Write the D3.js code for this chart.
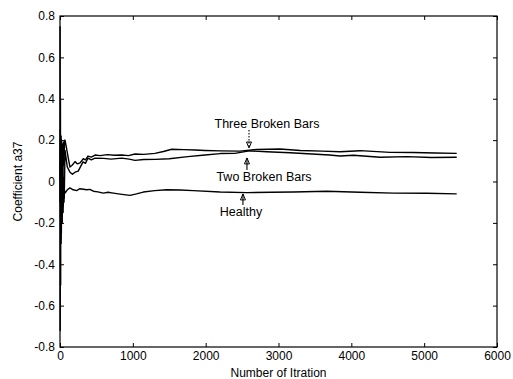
<!DOCTYPE html>
<html><head><meta charset="utf-8">
<script src="https://cdn.jsdelivr.net/npm/d3@7"></script>
<style>body{margin:0;background:#fff}svg{display:block}text{font-family:"Liberation Sans",Arial,sans-serif;fill:#000}</style>
</head><body>
<svg id="c" width="513" height="379"></svg>
<script>
const xTicks = [0,1000,2000,3000,4000,5000,6000];
const yTicks = [-0.8,-0.6,-0.4,-0.2,0,0.2,0.4,0.6,0.8];
const yTickLabels = ["-0.8","-0.6","-0.4","-0.2","0","0.2","0.4","0.6","0.8"];

const threeBroken = [[0,0],[4,0.25],[8,-0.1],[12,0.22],[17,-0.2],[22,0.2],[28,-0.08],[34,0.18],[40,0.0],[48,0.19],[55,0.08],[62,0.2],[69,0.2],[90,0.16],[110,0.12],[137,0.07],[170,0.08],[206,0.096],[240,0.085],[275,0.09],[320,0.11],[350,0.105],[384,0.123],[430,0.118],[481,0.128],[550,0.125],[650,0.13],[750,0.127],[847,0.128],[940,0.125],[1030,0.133],[1150,0.131],[1304,0.136],[1420,0.145],[1534,0.156],[1700,0.154],[1854,0.152],[1991,0.15],[2200,0.148],[2471,0.147],[2700,0.155],[3020,0.157],[3300,0.15],[3600,0.147],[3845,0.144],[4120,0.149],[4532,0.141],[4850,0.14],[5150,0.138],[5447,0.136]];

const twoBroken = [[0,-0.1],[5,0.15],[10,-0.28],[14,0.1],[19,-0.25],[24,0.12],[30,-0.2],[36,0.05],[42,-0.15],[50,0.02],[58,-0.08],[69,0.15],[100,0.07],[137,0.045],[170,0.035],[206,0.045],[250,0.05],[316,0.095],[350,0.088],[384,0.113],[430,0.105],[481,0.113],[600,0.112],[700,0.108],[847,0.113],[950,0.108],[1030,0.102],[1150,0.106],[1304,0.107],[1500,0.11],[1757,0.12],[1991,0.128],[2200,0.135],[2400,0.136],[2600,0.148],[2838,0.144],[3158,0.139],[3400,0.134],[3700,0.128],[3845,0.123],[4028,0.127],[4395,0.117],[4760,0.12],[5100,0.116],[5447,0.117]];

const healthy = [[1,0.75],[3,-0.72],[6,0.4],[9,-0.5],[12,0.22],[16,-0.3],[20,0.1],[25,-0.2],[30,0.05],[35,-0.15],[40,-0.02],[45,-0.12],[50,-0.05],[55,-0.1],[60,-0.04],[69,-0.056],[100,-0.04],[137,-0.031],[180,-0.04],[229,-0.044],[270,-0.035],[300,-0.036],[366,-0.04],[410,-0.038],[458,-0.047],[520,-0.05],[595,-0.056],[660,-0.052],[732,-0.056],[850,-0.062],[961,-0.067],[1050,-0.06],[1144,-0.051],[1300,-0.044],[1465,-0.04],[1650,-0.041],[1831,-0.044],[2197,-0.051],[2563,-0.054],[2900,-0.052],[3204,-0.051],[3662,-0.047],[4120,-0.052],[4578,-0.056],[5035,-0.057],[5447,-0.06]];

const labels = [
  {text:"Three Broken Bars", x:2842, y:0.278, ax:2595, ay0:0.249, ay1:0.162, dotted:true},
  {text:"Two Broken Bars", x:2801, y:0.022, ax:2567, ay0:0.056, ay1:0.114, dotted:false},
  {text:"Healthy", x:2485, y:-0.147, ax:2512, ay0:-0.114, ay1:-0.06, dotted:false}
];

const svg = d3.select("#c");
const L=60,R=497,T=16,B=347;
const x = d3.scaleLinear().domain([0,6000]).range([L,R]);
const y = d3.scaleLinear().domain([-0.8,0.8]).range([B,T]);

const g = svg.append("g");
const ax = g.append("g").attr("transform",`translate(0,${B})`)
  .call(d3.axisBottom(x).tickValues(xTicks).tickSize(-4).tickPadding(4).tickFormat(d3.format("d")));
const axT = g.append("g").attr("transform",`translate(0,${T})`)
  .call(d3.axisTop(x).tickValues(xTicks).tickSize(-4).tickFormat(""));
const ay = g.append("g").attr("transform",`translate(${L},0)`)
  .call(d3.axisLeft(y).tickValues(yTicks).tickSize(-4).tickPadding(5).tickFormat((d,i)=>yTickLabels[i]));
const ayR = g.append("g").attr("transform",`translate(${R},0)`)
  .call(d3.axisRight(y).tickValues(yTicks).tickSize(-4).tickFormat(""));
[ax,axT,ay,ayR].forEach(a=>{
  a.select(".domain").remove();
  a.selectAll("line").attr("stroke","#000");
  a.selectAll("text").attr("font-size","12px").attr("font-family","Liberation Sans, Arial, sans-serif");
});
g.append("rect").attr("x",L).attr("y",T).attr("width",R-L).attr("height",B-T)
  .attr("fill","none").attr("stroke","#000").attr("stroke-width",1.2);

const line = d3.line().x(d=>x(d[0])).y(d=>y(d[1]));
[threeBroken,twoBroken,healthy].forEach(s=>{
  g.append("path").datum(s).attr("d",line).attr("fill","none")
   .attr("stroke","#000").attr("stroke-width",1.4).attr("stroke-linejoin","round");
});

labels.forEach(l=>{
  g.append("text").attr("x",x(l.x)).attr("y",y(l.y)+4.5).attr("text-anchor","middle")
   .attr("font-size","12.5px").text(l.text);
  const xa=x(l.ax), y0=y(l.ay0), y1=y(l.ay1);
  g.append("line").attr("x1",xa).attr("x2",xa).attr("y1",y0).attr("y2",y1)
   .attr("stroke","#000").attr("stroke-width",1.1).attr("stroke-dasharray",l.dotted?"1.5,1.5":null);
  const dir = y1>y0?-1:1;
  g.append("path").attr("d",`M${xa},${y1} L${xa-2.5},${y1+dir*6} L${xa+2.5},${y1+dir*6} Z`)
   .attr("fill","none").attr("stroke","#000").attr("stroke-width",1);
});

g.append("text").attr("x",(L+R)/2).attr("y",377).attr("text-anchor","middle").attr("font-size","12px").text("Number of Itration");
g.append("text").attr("transform",`translate(22,${(T+B)/2}) rotate(-90)`).attr("text-anchor","middle").attr("font-size","12px").text("Coefficient a37");
</script>
</body></html>
